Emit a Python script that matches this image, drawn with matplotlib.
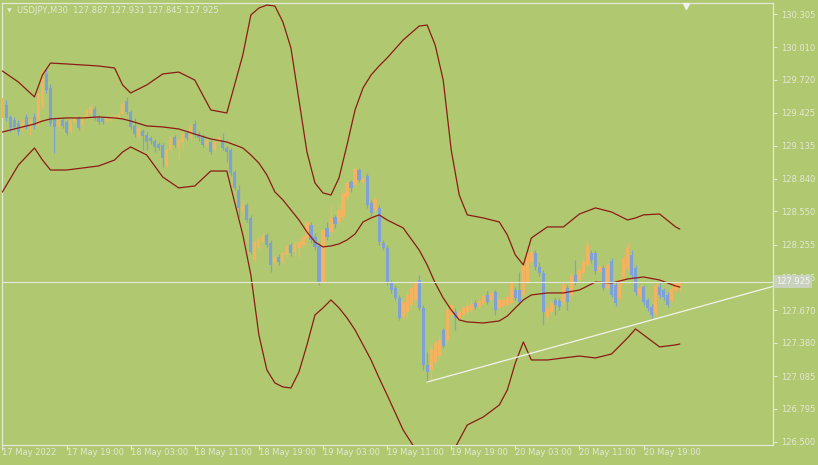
import matplotlib
matplotlib.use('Agg')
import matplotlib.pyplot as plt
import numpy as np
from matplotlib.transforms import blended_transform_factory

# ---------------- data ----------------
opens = [129.381,129.497,129.390,129.363,129.336,129.301,129.390,129.310,129.390,129.336,
129.497,129.772,129.648,129.363,129.301,129.363,129.345,129.256,129.345,129.381,
129.319,129.381,129.425,129.461,129.390,129.381,129.354,129.363,129.381,129.390,
129.416,129.532,129.434,129.310,129.212,129.265,129.230,129.203,129.176,129.150,
129.141,128.945,129.096,129.212,129.114,129.167,129.247,129.203,129.327,129.238,
129.212,129.141,129.167,129.096,129.167,129.185,129.114,129.096,128.900,128.741,
128.545,128.608,128.492,128.118,128.225,128.278,128.341,128.270,128.091,128.145,
128.100,128.163,128.252,128.189,128.225,128.252,128.314,128.430,128.323,128.243,
127.913,128.403,128.367,128.501,128.456,128.501,128.679,128.812,128.785,128.918,
128.812,128.865,128.625,128.563,128.581,128.270,128.225,127.913,127.869,127.780,
127.612,127.656,127.718,127.763,127.940,127.692,127.185,127.140,127.211,127.265,
127.496,127.407,127.629,127.656,127.603,127.629,127.656,127.674,127.736,127.701,
127.736,127.807,127.763,127.833,127.692,127.709,127.718,127.736,127.851,127.851,
127.807,127.922,128.100,128.181,128.056,128.003,127.612,127.656,127.763,127.754,
127.745,127.869,127.807,127.985,127.940,128.003,128.074,128.181,128.181,128.011,
128.047,127.869,128.109,127.896,127.780,127.967,128.047,128.163,128.047,127.807,
127.878,127.763,127.701,127.647,127.878,127.851,127.807,127.763,127.851,127.887]
closes = [129.559,129.381,129.292,129.301,129.256,129.345,129.301,129.354,129.310,129.594,
129.736,129.630,129.336,129.301,129.363,129.310,129.247,129.363,129.390,129.292,
129.390,129.452,129.479,129.381,129.345,129.345,129.381,129.390,129.399,129.416,
129.505,129.434,129.301,129.238,129.292,129.221,129.167,129.176,129.123,129.114,
129.025,129.096,129.212,129.141,129.185,129.247,129.203,129.319,129.230,129.203,
129.141,129.176,129.078,129.167,129.212,129.114,129.078,128.891,128.759,128.581,
128.616,128.474,128.189,128.278,128.314,128.332,128.252,128.074,128.145,128.100,
128.181,128.243,128.181,128.261,128.278,128.323,128.456,128.296,128.234,127.913,
128.385,128.323,128.492,128.439,128.563,128.714,128.803,128.759,128.927,128.830,
128.839,128.608,128.536,128.661,128.278,128.225,127.913,127.851,127.780,127.603,
127.745,127.807,127.869,127.922,127.692,127.185,127.122,127.318,127.380,127.407,
127.354,127.674,127.718,127.603,127.656,127.692,127.709,127.727,127.701,127.754,
127.798,127.745,127.825,127.674,127.763,127.763,127.789,127.913,127.780,127.745,
128.074,128.171,128.189,128.056,128.003,127.656,127.692,127.736,127.718,127.701,
127.905,127.745,127.976,127.922,128.029,128.100,128.252,128.118,128.020,128.056,
127.869,128.074,127.807,127.736,127.940,128.127,128.225,127.985,127.834,127.869,
127.745,127.692,127.629,127.887,127.807,127.789,127.718,127.860,127.905,127.925]
highs = [129.586,129.541,129.408,129.390,129.363,129.372,129.416,129.381,129.425,129.612,
129.807,129.825,129.683,129.390,129.390,129.381,129.363,129.381,129.408,129.399,
129.416,129.479,129.514,129.488,129.408,129.399,129.399,129.408,129.416,129.434,
129.532,129.568,129.452,129.381,129.310,129.283,129.256,129.221,129.194,129.167,
129.159,129.114,129.221,129.230,129.203,129.274,129.265,129.336,129.363,129.265,
129.238,129.203,129.185,129.185,129.230,129.247,129.132,129.114,128.918,128.785,
128.652,128.625,128.519,128.296,128.341,128.358,128.358,128.296,128.163,128.171,
128.207,128.270,128.270,128.287,128.314,128.341,128.474,128.456,128.358,128.270,
128.403,128.456,128.608,128.519,128.608,128.741,128.830,128.830,128.954,128.936,
128.856,128.891,128.652,128.696,128.608,128.296,128.252,127.940,127.896,127.807,
127.763,127.851,127.896,127.958,127.985,127.718,127.300,127.363,127.407,127.452,
127.514,127.718,127.745,127.692,127.683,127.718,127.745,127.763,127.763,127.780,
127.825,127.842,127.851,127.851,127.789,127.789,127.816,127.940,127.878,128.011,
128.100,128.207,128.252,128.207,128.100,128.029,127.718,127.763,127.789,127.780,
127.931,127.896,128.011,128.118,128.056,128.136,128.296,128.207,128.207,128.082,
128.074,128.100,128.136,127.922,127.967,128.154,128.270,128.207,128.074,127.896,
127.896,127.780,127.727,127.913,127.913,127.869,127.834,127.887,127.931,127.931]
lows = [129.363,129.354,129.256,129.274,129.230,129.274,129.283,129.230,129.283,129.319,
129.470,129.603,129.310,129.069,129.265,129.292,129.230,129.238,129.327,129.274,
129.256,129.363,129.408,129.363,129.327,129.327,129.336,129.345,129.354,129.372,
129.399,129.416,129.283,129.212,129.194,129.096,129.096,129.150,129.078,129.096,
128.945,128.936,129.078,129.123,129.007,129.096,129.185,129.185,129.212,129.176,
129.123,129.123,129.060,129.069,129.150,129.096,128.989,128.865,128.741,128.501,
128.519,128.456,128.171,128.100,128.207,128.261,128.234,128.011,128.047,128.074,
128.082,128.136,128.154,128.163,128.136,128.234,128.296,128.270,128.207,127.896,
127.896,128.296,128.341,128.403,128.439,128.483,128.652,128.723,128.759,128.812,
128.794,128.581,128.510,128.545,128.252,128.207,127.896,127.825,127.763,127.585,
127.585,127.603,127.674,127.718,127.674,127.140,127.033,127.051,127.185,127.229,
127.336,127.389,127.603,127.496,127.585,127.603,127.638,127.656,127.683,127.683,
127.718,127.727,127.745,127.629,127.674,127.692,127.701,127.709,127.763,127.718,
127.780,127.905,128.074,128.029,127.976,127.540,127.567,127.629,127.629,127.674,
127.718,127.674,127.780,127.896,127.913,127.976,128.056,128.091,127.994,128.003,
127.851,127.851,127.789,127.709,127.763,127.940,128.029,127.958,127.807,127.780,
127.718,127.665,127.603,127.620,127.780,127.763,127.701,127.745,127.834,127.845]

band_idx = [0,4,8,10,12, 16,20,24,28,30, 32,36,40,44,48, 52,56,60,62,64,
            66,68,70,72,74, 76,78,80,82,84, 86,88,90,92,94, 96,100,104,106,108,
            110,112,114,116,120, 124,126,128,130,132, 136,140,144,148,152,
            156,158,160,164,168, 169]
band_upper = [129.798,129.700,129.568,129.763,129.869, 129.861,129.852,129.843,129.825,129.674,
              129.603,129.674,129.772,129.789,129.718, 129.452,129.425,129.941,130.296,130.358,
              130.385,130.376,130.234,130.003,129.541, 129.078,128.803,128.714,128.696,128.848,
              129.141,129.452,129.648,129.763,129.843, 129.914,130.074,130.198,130.207,130.029,
              129.718,129.096,128.696,128.519,128.492, 128.456,128.341,128.163,128.074,128.314,
              128.412,128.412,128.527,128.581,128.545, 128.474,128.492,128.519,128.527,128.412,
              128.394]
band_mid = [129.256,129.292,129.327,129.354,129.372, 129.381,129.381,129.390,129.381,129.372,
            129.354,129.310,129.301,129.283,129.238, 129.194,129.167,129.114,129.052,128.980,
            128.874,128.723,128.652,128.563,128.474, 128.367,128.278,128.234,128.243,128.261,
            128.296,128.349,128.456,128.492,128.519, 128.474,128.403,128.207,128.074,127.913,
            127.780,127.674,127.585,127.567,127.558, 127.576,127.620,127.692,127.763,127.807,
            127.825,127.825,127.851,127.922,127.913, 127.949,127.958,127.967,127.940,127.887,
            127.878]
band_lower = [128.723,128.963,129.114,129.007,128.918, 128.918,128.936,128.954,129.007,129.078,
              129.123,129.052,128.856,128.759,128.776, 128.909,128.909,128.341,127.985,127.452,
              127.140,127.025,126.989,126.980,127.122, 127.363,127.629,127.692,127.763,127.692,
              127.603,127.496,127.363,127.229,127.069, 126.918,126.607,126.385,126.296,126.252,
              126.296,126.385,126.518,126.651,126.722, 126.829,126.962,127.203,127.389,127.229,
              127.229,127.247,127.264,127.247,127.282, 127.425,127.505,127.452,127.345,127.363,
              127.371]

trend_x = [106, 174]
trend_y = [127.033, 127.703]

bid = 127.925
ytick_vals = [130.305,130.010,129.720,129.425,129.135,128.840,128.550,128.255,127.965,
              127.670,127.380,127.085,126.795,126.500]
xtick_idx = [0,16,32,48,64,80,96,112,128,144,160]
xtick_labels = ['17 May 2022','17 May 19:00','18 May 03:00','18 May 11:00','18 May 19:00',
                '19 May 03:00','19 May 11:00','19 May 19:00','20 May 03:00','20 May 11:00',
                '20 May 19:00']
title = 'USDJPY,M30  127.887 127.931 127.845 127.925'

# ---------------- style ----------------
BG = '#b0c870'
BULL = '#f4b35e'
BEAR = '#7fa2d6'
BAND = '#8b1c14'
FG = '#e2e9d4'
FONT = 'DejaVu Sans'

W, H = 818, 465
fig = plt.figure(figsize=(W/100, H/100), dpi=100, facecolor=BG)
ax = fig.add_axes([2/W, 20/H, 771/W, 442/H])
ax.set_facecolor(BG)

o = np.array(opens); c = np.array(closes); hi = np.array(highs); lo = np.array(lows)
x = np.arange(len(o))
up = c >= o
cols = np.where(up, BULL, BEAR)
ax.vlines(x, lo, hi, colors=cols, linewidth=0.9, zorder=2)
body_b = np.minimum(o, c)
body_h = np.maximum(np.abs(c - o), 0.005)
ax.bar(x, body_h, bottom=body_b, width=0.78, color=cols, linewidth=0, zorder=3)

for band in (band_upper, band_mid, band_lower):
    ax.plot(band_idx, band, color=BAND, linewidth=0.9, zorder=4)

xmax = 192.3
ax.set_xlim(-0.1, xmax)
ax.set_ylim(126.473, 130.403)

# trend ray
slope = (trend_y[1] - trend_y[0]) / (trend_x[1] - trend_x[0])
ax.plot([trend_x[0], xmax], [trend_y[0], trend_y[0] + slope * (xmax - trend_x[0])],
        color='#f2f4ee', linewidth=0.9, zorder=5)
# bid line
ax.axhline(bid, color='#e4e9dc', linewidth=0.8, zorder=5)

for s in ax.spines.values():
    s.set_color(FG)
    s.set_linewidth(0.9)

ax.yaxis.tick_right()
ax.set_yticks(ytick_vals)
ax.set_yticklabels([f'{v:.3f}' for v in ytick_vals], fontsize=6, color=FG, family=FONT)
ax.tick_params(axis='y', direction='out', length=3, width=0.8, color=FG, pad=3)
ax.set_xticks(xtick_idx)
ax.set_xticklabels(xtick_labels, fontsize=6, color=FG, family=FONT, ha='left')
ax.tick_params(axis='x', direction='out', length=3.5, width=0.8, color=FG, pad=-1.5)

# price label box
tr = blended_transform_factory(ax.transAxes, ax.transData)
ax.text(1.004, bid, f'{bid:.3f}', transform=tr, fontsize=6, color='#f4f6f0', family=FONT,
        va='center', ha='left', zorder=10, clip_on=False,
        bbox=dict(boxstyle='square,pad=0.25', facecolor='#c9d1bf', edgecolor='none'))

# title
ax.text(0.006, 0.982, '\u25bc', transform=ax.transAxes, fontsize=4.5, color=FG,
        va='center', ha='left', family=FONT)
ax.text(0.02, 0.982, title, transform=ax.transAxes, fontsize=6, color=FG,
        va='center', ha='left', family=FONT)
# chart shift marker
ax.plot([0.887], [0.993], marker='v', markersize=4.5, color='#f0f2ec',
        transform=ax.transAxes, clip_on=False, linestyle='none', zorder=10)

fig.savefig('out.png', dpi=100, facecolor=BG)
